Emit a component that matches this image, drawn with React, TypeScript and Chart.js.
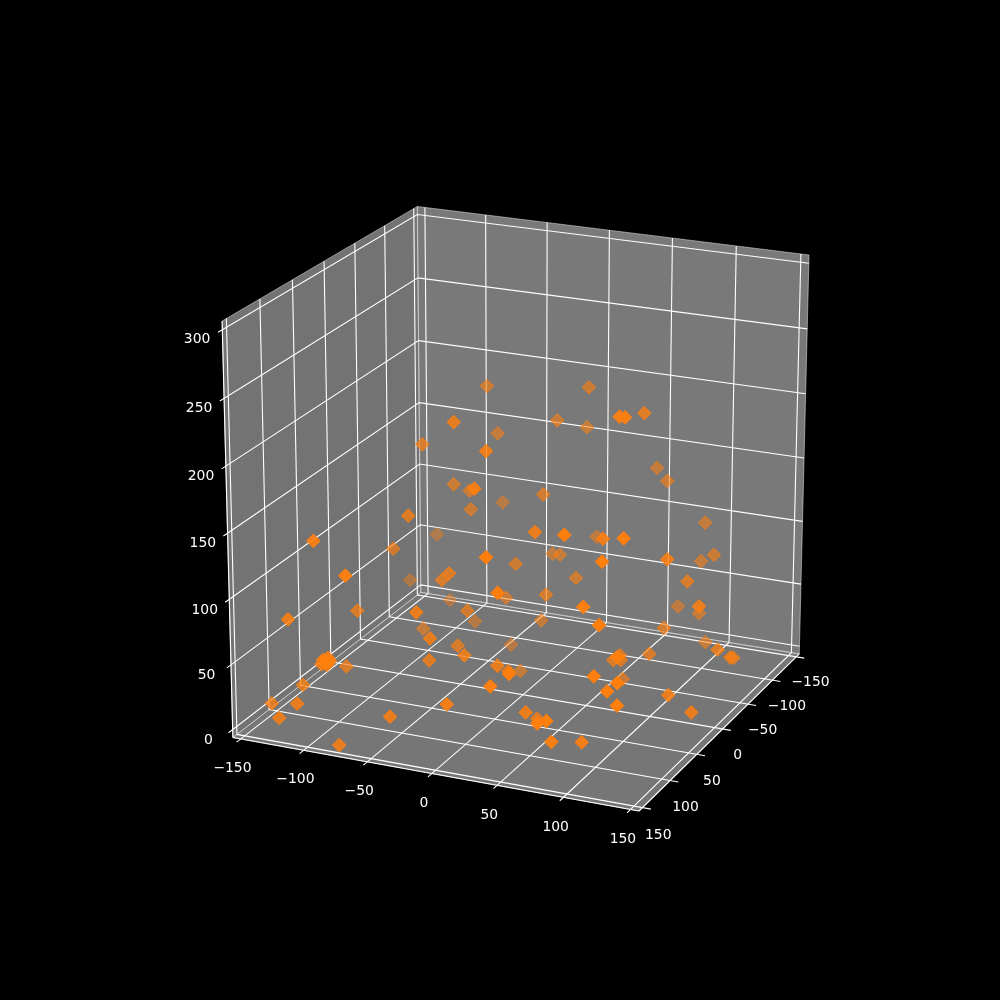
import { useEffect, useRef } from "react"
import { Chart, registerables } from "chart.js"

Chart.register(...registerables)

const xTicks = [-150, -100, -50, 0, 50, 100, 150]
const yTicks = [-150, -100, -50, 0, 50, 100, 150]
const zTicks = [0, 50, 100, 150, 200, 250, 300]

const xValues = [
  -54.7, -38.9, -51.1, -74.4, -6.7, -66.8, -55.5, -2.1, -57.2, -52.9,
  -67.7, -107.1, 32.7, -91.7, 28.7, -17.4, 13.3, 83.5, 87.0, 75.8,
  -4.4, 8.1, 59.2, 75.0, 1.9, 97.2, 75.7, 18.1, 77.0, 113.3,
  -9.9, 3.1, 102.0, 120.3, 98.3, 113.6, -120.7, -35.4, -47.8, -91.3,
  -35.6, -36.5, -63.6, -80.9, -32.8, -30.9, -8.9, -39.6, 39.5, -28.6,
  13.9, -2.7, -36.7, 13.5, 13.0, 54.4, -11.5, 35.6, 1.4, 44.5,
  33.5, 76.9, 82.3, 24.1, 113.3, 86.7, 80.1, 145.3, 102.3, 106.2,
  95.2, 109.5, 147.2, 150.0, 150.0, 95.6, 76.5, 120.7, 72.6, 77.5,
  107.8, 65.5, 123.2, 117.6, 125.2, 134.3, 150.0, 79.6, 91.1, -74.9,
  -42.2, -122.0, -107.5, -137.9, -119.4, -101.8, -87.8, -85.0, -81.1, -86.5,
  -99.6, -68.0, -117.3, -100.3, -83.5, -82.6,
]

const yValues = [
  -58.4, 33.2, -69.1, 10.7, 48.8, -26.0, -29.3, 78.7, -91.4, -25.3,
  49.0, -82.2, 52.7, 24.7, 126.9, -26.1, -88.3, 21.7, 20.3, -42.4,
  -71.3, -97.2, -108.7, -90.0, -31.8, -110.5, 100.2, -93.3, 34.7, 84.3,
  -76.1, -59.7, 95.4, 20.9, -100.3, -86.9, -63.2, 50.1, 35.6, -70.7,
  104.3, 17.0, -55.2, -1.9, 88.2, 45.8, 82.1, 75.4, 131.4, -33.7,
  -9.8, -39.0, -60.6, 74.9, 54.9, 145.7, -21.1, 135.6, 133.9, 95.2,
  50.1, 148.5, 145.4, -40.8, -35.8, 92.1, -101.6, 22.2, -87.7, 110.0,
  -36.9, -82.9, -10.7, -28.8, -34.9, -8.3, 0.6, 111.8, 3.6, 1.5,
  122.5, -31.5, 117.4, 122.0, 122.4, 50.6, 45.8, 130.5, 103.9, 150.0,
  134.9, 150.0, 150.0, 130.7, 117.5, 83.0, 150.0, 150.0, 150.0, 150.0,
  135.9, 150.0, 142.6, 67.3, 150.0, 150.0,
]

const zValues = [
  207.2, 210.3, 167.6, 181.2, 198.0, 139.5, 135.1, 180.3, 105.0, 122.3,
  140.2, 75.0, 144.2, 102.7, 150.3, 84.6, 206.3, 227.8, 227.4, 209.4,
  183.6, 171.8, 143.7, 141.8, 139.9, 105.6, 164.8, 88.3, 139.7, 162.6,
  76.5, 83.4, 147.4, 126.0, 79.0, 90.8, 42.6, 101.3, 89.1, 28.4,
  90.8, 60.3, 21.3, 32.0, 65.5, 44.4, 54.1, 42.6, 127.1, 53.6,
  71.3, 37.9, 4.8, 47.2, 35.4, 74.4, 2.7, 58.1, 38.0, 24.3,
  0.0, 42.3, 43.8, 75.0, 88.2, 110.1, 39.7, 94.8, 42.7, 106.1,
  48.5, 22.8, 49.8, 37.6, 34.8, 38.8, 37.9, 85.4, 34.7, 34.7,
  72.9, 5.4, 68.5, 63.1, 53.8, 35.8, 23.4, 21.8, 12.9, -0.2,
  21.4, 12.5, 26.0, 13.6, 26.0, 30.3, 59.7, 61.7, 63.1, 63.0,
  145.8, 129.6, 86.2, 68.2, 59.7, 65.2,
]

// camera of the 3d box
const azim = (-66 * Math.PI) / 180
const elev = (20 * Math.PI) / 180
const dist = 10
const kx = 775 / 0.185
const ky = 770 / 0.185
const cx = 125 + 0.095 * kx
const cy = 890 - 0.095 * ky
const u = [-Math.sin(azim), Math.cos(azim), 0]
const v = [-Math.sin(elev) * Math.cos(azim), -Math.sin(elev) * Math.sin(azim), Math.cos(elev)]
const w = [Math.cos(elev) * Math.cos(azim), Math.cos(elev) * Math.sin(azim), Math.sin(elev)]
const nearDepth = 9.6
const farDepth = 10.6

// limits of the box, a little wider than the ticks
const lo = -156.25
const hi = 156.25
const zLo = -6.25
const zHi = 306.25
const tickOut = 6.25
const labelPad = 14

const dot = (a: number[], b: number[]) => a[0] * b[0] + a[1] * b[1] + a[2] * b[2]
const world = (x: number, y: number, z: number) => [x / 300, -y / 300, z / 300 - 0.5]
const depth = (x: number, y: number, z: number) => dist - dot(world(x, y, z), w)

function project(x: number, y: number, z: number) {
  const p = world(x, y, z)
  const d = dist - dot(p, w)
  return { x: cx + (kx * dot(p, u)) / d, y: cy - (ky * dot(p, v)) / d }
}

function line(pts: number[][]) {
  return {
    data: pts.map((p) => project(p[0], p[1], p[2])),
    showLine: true,
    pointRadius: 0,
    borderColor: "#ffffff",
    borderWidth: 1.1,
    order: 2,
  }
}

function shadeColor(d: number) {
  const alpha = Math.max(0.3, Math.min(1, 1 - (0.7 * (d - nearDepth)) / (farDepth - nearDepth)))
  return `rgba(255,127,14,${alpha})`
}

const boxPlugin = {
  id: "box3d",
  beforeDatasetsDraw(chart: any) {
    const { ctx, scales } = chart
    const pane = (pts: number[][], color: string) => {
      ctx.beginPath()
      pts.forEach((p, i) => {
        const s = project(p[0], p[1], p[2])
        const px = scales.x.getPixelForValue(s.x)
        const py = scales.y.getPixelForValue(s.y)
        if (i === 0) ctx.moveTo(px, py)
        else ctx.lineTo(px, py)
      })
      ctx.closePath()
      ctx.fillStyle = color
      ctx.fill()
      ctx.strokeStyle = color
      ctx.lineWidth = 1
      ctx.stroke()
    }
    ctx.save()
    pane([[lo, lo, zLo], [lo, hi, zLo], [lo, hi, zHi], [lo, lo, zHi]], "rgba(230,230,230,0.5)")
    pane([[lo, lo, zLo], [hi, lo, zLo], [hi, lo, zHi], [lo, lo, zHi]], "rgba(242,242,242,0.5)")
    pane([[lo, lo, zLo], [hi, lo, zLo], [hi, hi, zLo], [lo, hi, zLo]], "rgba(236,236,236,0.5)")
    ctx.restore()
  },
  afterDatasetsDraw(chart: any) {
    const { ctx, scales } = chart
    const label = (t: number, p: number[], dx: number, dy: number) => {
      const s = project(p[0], p[1], p[2])
      const text = String(t).replace("-", "\u2212")
      ctx.fillText(text, scales.x.getPixelForValue(s.x) + dx, scales.y.getPixelForValue(s.y) + dy)
    }
    ctx.save()
    ctx.fillStyle = "#ffffff"
    ctx.font = '13.9px "DejaVu Sans"'
    ctx.textAlign = "center"
    ctx.textBaseline = "middle"
    xTicks.forEach((t) => label(t, [t, hi + labelPad, zLo - labelPad], 0.5, 4))
    yTicks.forEach((t) => label(t, [hi + labelPad, t, zLo - labelPad], -3, 5.5))
    zTicks.forEach((t) => label(t, [lo - labelPad, hi + labelPad, t], 2.5, 7))
    ctx.restore()
  },
}

export default function App() {
  const canvasRef = useRef<HTMLCanvasElement>(null)

  useEffect(() => {
    if (!canvasRef.current) return

    const datasets: any[] = []
    xTicks.forEach((t) => datasets.push(line([[t, lo, zHi], [t, lo, zLo], [t, hi + tickOut, zLo]])))
    yTicks.forEach((t) => datasets.push(line([[lo, t, zHi], [lo, t, zLo], [hi + tickOut, t, zLo]])))
    zTicks.forEach((t) => datasets.push(line([[hi, lo, t], [lo, lo, t], [lo, hi + tickOut, t]])))
    // axis edges
    datasets.push(line([[lo, hi, zLo], [hi, hi, zLo]]))
    datasets.push(line([[hi, lo, zLo], [hi, hi, zLo]]))
    datasets.push(line([[lo, hi, zLo], [lo, hi, zHi]]))

    // far points first, so near ones sit on top
    const order = xValues
      .map((_, i) => i)
      .sort((a, b) => depth(xValues[b], yValues[b], zValues[b]) - depth(xValues[a], yValues[a], zValues[a]))
    const colors = order.map((i) => shadeColor(depth(xValues[i], yValues[i], zValues[i])))
    datasets.push({
      data: order.map((i) => project(xValues[i], yValues[i], zValues[i])),
      pointStyle: "rectRot",
      pointRadius: 6.6,
      borderWidth: 1.1,
      backgroundColor: colors,
      borderColor: colors,
      order: 1,
    })

    const chart = new Chart(canvasRef.current, {
      type: "scatter",
      data: { datasets },
      options: {
        animation: false,
        responsive: false,
        layout: { padding: 0, autoPadding: false },
        plugins: { legend: { display: false }, tooltip: { enabled: false } },
        scales: {
          x: { type: "linear", min: 0, max: 1000, display: false },
          y: { type: "linear", min: 0, max: 1000, reverse: true, display: false },
        },
      },
      plugins: [boxPlugin],
    })

    return () => chart.destroy()
  }, [])

  return (
    <div style={{ position: "absolute", left: 0, top: 0, width: 1000, height: 1000, background: "#000" }}>
      <canvas ref={canvasRef} width={1000} height={1000} style={{ display: "block" }} />
    </div>
  )
}
